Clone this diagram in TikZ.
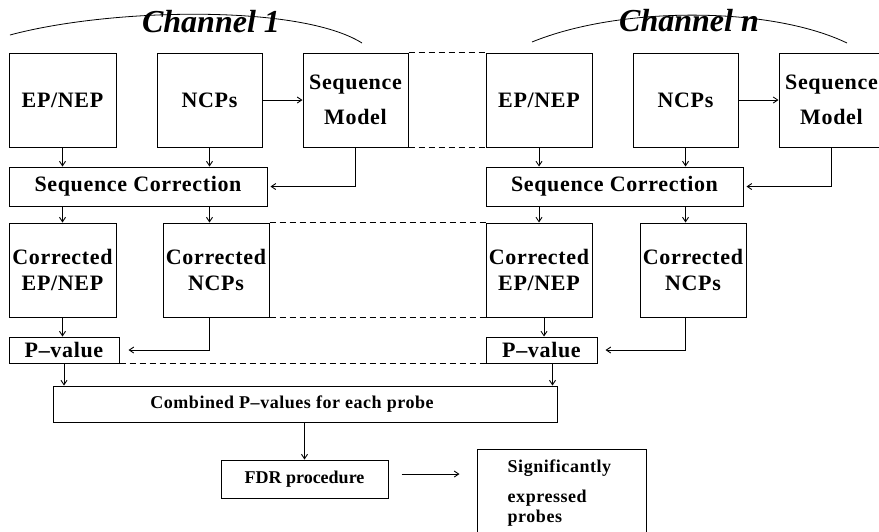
\documentclass[tikz,border=0pt]{standalone}
\usepackage{fontspec}
\setmainfont{Liberation Serif}
\usetikzlibrary{arrows.meta}

\tikzset{
  box/.style={draw,line width=1pt,inner sep=0pt,align=center,
    font=\bfseries\fontsize{22}{26}\selectfont\addfontfeature{LetterSpace=3}},
  smallbox/.style={draw,line width=1pt,inner sep=0pt,align=center,
    font=\bfseries\fontsize{18}{20}\selectfont},
  smalltext/.style={inner sep=0pt,align=left,
    font=\bfseries\fontsize{18}{20}\selectfont\addfontfeature{LetterSpace=3}},
  chan/.style={font=\bfseries\itshape\fontsize{32}{34}\selectfont},
  arc/.style={line width=0.8pt},
  arr/.style={line width=0.9pt,-{Straight Barb[length=4.5pt,width=6pt]}},
  dashline/.style={line width=0.9pt,dash pattern=on 6pt off 4pt},
}

\begin{document}
\begin{tikzpicture}[x=1pt,y=-1pt]
\clip (0,0) rectangle (879,531);

% channel 1
\node[chan] (ch1) at (211,22) {Channel 1};
\draw[arc] (10,35) .. controls (110,8) and (300,4) .. (362,43);

\node[box,minimum width=107,minimum height=94] (ep1) at (62.5,100) {EP/NEP};
\node[box,minimum width=105,minimum height=94] (ncp1) at (209.5,100) {NCPs};
\node[box,minimum width=105,minimum height=94] (sm1) at (355.5,100) {Sequence\\[9pt]Model};
\node[box,minimum width=258,minimum height=39] (sc1) at (138,186.5) {Sequence Correction};
\node[box,minimum width=107,minimum height=94] (cep1) at (62.5,270) {Corrected\\EP/NEP};
\node[box,minimum width=106,minimum height=94] (cncp1) at (216,270) {Corrected\\NCPs};
\node[box,minimum width=110,minimum height=26] (pv1) at (64,350) {P--value};

% channel n
\node[chan] (chn) at (689,21) {Channel n};
\draw[arc] (532,42) .. controls (620,6) and (770,6) .. (847,43);

\node[box,minimum width=106,minimum height=94] (ep2) at (539,100) {EP/NEP};
\node[box,minimum width=105,minimum height=94] (ncp2) at (685.5,100) {NCPs};
\node[box,minimum width=105,minimum height=94] (sm2) at (831.5,100) {Sequence\\[9pt]Model};
\node[box,minimum width=257,minimum height=39] (sc2) at (614.5,186.5) {Sequence Correction};
\node[box,minimum width=106,minimum height=94] (cep2) at (539,270) {Corrected\\EP/NEP};
\node[box,minimum width=106,minimum height=94] (cncp2) at (693,270) {Corrected\\NCPs};
\node[box,minimum width=111,minimum height=26] (pv2) at (541.5,350) {P--value};

% common part
\node[smallbox,minimum width=504,minimum height=36,
  font=\bfseries\fontsize{18}{20}\selectfont\addfontfeature{LetterSpace=3}] (comb) at (305,404) {Combined P--values for each probe\hspace*{26pt}};
\node[smallbox,minimum width=167,minimum height=38] (fdr) at (304.5,479) {FDR procedure};
\node[draw,line width=1pt,minimum width=169,minimum height=110] (sig) at (561.5,504) {};
\node[smalltext,anchor=north west] (sigtxt) at ([xshift=31pt,yshift=-11pt]sig.north west)
  {Significantly\\[10pt]expressed\\probes};

% dashed links between channels
\draw[dashline] (sm1.north east) -- (ep2.north west);
\draw[dashline] (sm1.south east) -- (ep2.south west);
\draw[dashline] (cncp1.north east) -- (cep2.north west);
\draw[dashline] (cncp1.south east) -- (cep2.south west);
\draw[dashline] (pv1.south east) -- (pv2.south west);

% arrows, channel 1
\draw[arr] (ncp1.east) -- (sm1.west);
\draw[arr] (ep1.south) -- (ep1.south |- sc1.north);
\draw[arr] (ncp1.south) -- (ncp1.south |- sc1.north);
\draw[arr,shorten >=3pt] (sm1.south) |- (sc1.east);
\draw[arr] (sc1.south -| ep1) -- (cep1.north);
\draw[arr] (sc1.south -| ncp1) -- (cncp1.north -| ncp1);
\draw[arr] (cep1.south) -- (pv1.north -| cep1);
\draw[arr,shorten >=9pt] (cncp1.south -| ncp1) |- (pv1.east);
\draw[arr] (pv1.south) -- (pv1.south |- comb.north);

% arrows, channel n
\draw[arr] (ncp2.east) -- (sm2.west);
\draw[arr] (ep2.south) -- (ep2.south |- sc2.north);
\draw[arr] (ncp2.south) -- (ncp2.south |- sc2.north);
\draw[arr,shorten >=3pt] (sm2.south) |- (sc2.east);
\draw[arr] (sc2.south -| ep2) -- (cep2.north);
\draw[arr] (sc2.south -| ncp2) -- (cncp2.north -| ncp2);
\draw[arr] ([xshift=5pt]cep2.south) -- ([xshift=5pt]cep2.south |- pv2.north);
\draw[arr,shorten >=8pt] (cncp2.south -| ncp2) |- (pv2.east);
\draw[arr] ([xshift=11pt]pv2.south) -- ([xshift=11pt]pv2.south |- comb.north);

% bottom
\draw[arr] (comb.south -| fdr) -- (fdr.north);
\draw[arr,shorten <=13pt,shorten >=17pt] ([yshift=5pt]fdr.east) -- ([yshift=5pt]fdr.east -| sig.west);
\end{tikzpicture}
\end{document}
